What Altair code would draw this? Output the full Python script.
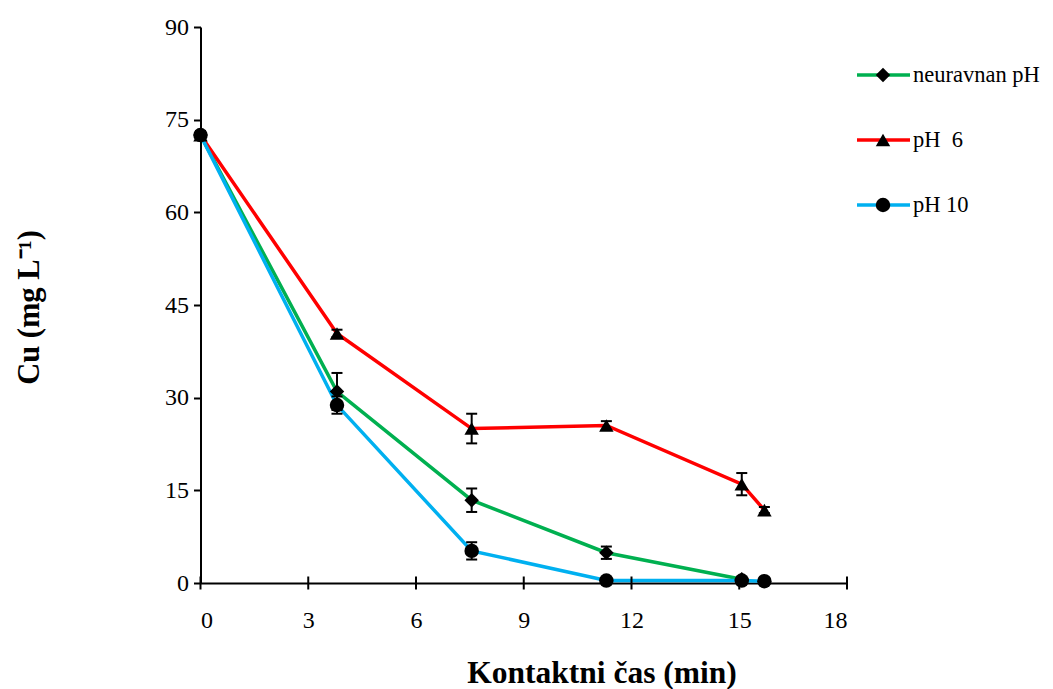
import altair as alt
import pandas as pd

series_names = ["neuravnan pH", "pH\u00a0 6", "pH 10"]
series_colors = ["#00B050", "#FF0000", "#00B0F0"]
series_shapes = ["diamond", "triangle-up", "circle"]

time_green = [0, 3.8, 7.55, 11.3, 15.07]
cu_green = [72.5, 31.0, 13.4, 4.9, 0.6]
err_green = [0.6, 3.0, 1.9, 1.0, 0.3]

time_red = [0, 3.8, 7.55, 11.3, 15.07, 15.7]
cu_red = [72.5, 40.4, 25.0, 25.5, 16.0, 11.8]
err_red = [0.6, 0.6, 2.4, 0.7, 1.8, 0.5]

time_blue = [0, 3.8, 7.55, 11.3, 15.07, 15.7]
cu_blue = [72.5, 28.8, 5.2, 0.4, 0.4, 0.3]
err_blue = [0.6, 1.4, 1.4, 0.2, 0.2, 0.2]

x_ticks = [0, 3, 6, 9, 12, 15, 18]
y_ticks = [0, 15, 30, 45, 60, 75, 90]

rows = []
for name, ts, cs, es in zip(series_names,
                            [time_green, time_red, time_blue],
                            [cu_green, cu_red, cu_blue],
                            [err_green, err_red, err_blue]):
    for t, c, e in zip(ts, cs, es):
        rows.append({"series": name, "time": t, "cu": c, "lo": c - e, "hi": c + e})
df = pd.DataFrame(rows)
df_ticks = pd.DataFrame({"t": x_ticks})
df_leg = pd.DataFrame({"series": series_names})

FONT = "Liberation Serif"

color_scale = alt.Scale(domain=series_names, range=series_colors)
shape_scale = alt.Scale(domain=series_names, range=series_shapes)

x_enc = alt.X("time:Q", scale=alt.Scale(domain=[0, 18], nice=False),
              axis=alt.Axis(values=x_ticks, format="d", ticks=False, grid=False,
                            domainColor="black", domainWidth=2,
                            labelFont=FONT, labelFontSize=24, labelColor="black",
                            labelPadding=25,
                            title="Kontaktni čas (min)", titleFont=FONT,
                            titleFontSize=31.5, titleFontWeight="bold", titleColor="black",
                            titleX=401, titleY=99, titleBaseline="alphabetic"))
y_enc = alt.Y("cu:Q", scale=alt.Scale(domain=[0, 90], nice=False),
              axis=alt.Axis(values=y_ticks, grid=False, domainColor="black", domainWidth=2,
                            tickColor="black", tickWidth=2, tickSize=7,
                            labelFont=FONT, labelFontSize=24, labelColor="black",
                            labelPadding=5,
                            title="Cu (mg L\u207b\u00b9)", titleFont=FONT,
                            titleFontSize=30.5, titleFontWeight="bold", titleColor="black",
                            titleX=-162, titleY=280, titleBaseline="alphabetic"))

base = alt.Chart(df)

lines = base.mark_line(strokeWidth=3.5).encode(
    x=x_enc, y=y_enc,
    color=alt.Color("series:N", scale=color_scale, legend=None),
    detail="series:N",
)

err_rule = base.mark_rule(color="black", strokeWidth=2).encode(
    x="time:Q", y="lo:Q", y2="hi:Q")
cap_lo = base.mark_tick(color="black", thickness=2, size=11, orient="horizontal", opacity=1).encode(
    x="time:Q", y="lo:Q")
cap_hi = base.mark_tick(color="black", thickness=2, size=11, orient="horizontal", opacity=1).encode(
    x="time:Q", y="hi:Q")

points = base.mark_point(filled=True, color="black", opacity=1, size=210).encode(
    x="time:Q", y="cu:Q",
    shape=alt.Shape("series:N", scale=shape_scale, legend=None),
)

xticks = alt.Chart(df_ticks).mark_tick(color="black", thickness=2, size=13,
                                       orient="vertical", opacity=1).encode(
    x="t:Q", y=alt.datum(0))

main = alt.layer(lines, err_rule, cap_lo, cap_hi, points, xticks)

leg_y = alt.Y("series:N", scale=alt.Scale(type="point", domain=series_names,
                                          range=[48, 178], padding=0), axis=None)
leg_line = alt.Chart(df_leg).mark_rule(strokeWidth=3.5).encode(
    x=alt.value(656.5), x2=alt.value(709.5), y=leg_y,
    color=alt.Color("series:N", scale=color_scale, legend=None))
leg_pt = alt.Chart(df_leg).mark_point(filled=True, color="black", opacity=1, size=210).encode(
    x=alt.value(682.5), y=leg_y,
    shape=alt.Shape("series:N", scale=shape_scale, legend=None))
leg_txt = alt.Chart(df_leg).mark_text(align="left", baseline="middle", font=FONT,
                                      fontSize=22.5, color="black").encode(
    x=alt.value(712.5), y=leg_y, text="series:N")

legend = alt.layer(leg_line, leg_pt, leg_txt)

chart = alt.layer(main, legend).resolve_scale(y="independent").properties(
    width=646.5, height=556,
    background="white",
    autosize=alt.AutoSizeParams(type="none"),
    padding={"left": 192.5, "top": 19, "right": 197, "bottom": 106},
).configure_view(stroke=None)

chart.save("out.html", embed_options={"renderer": "svg", "actions": False})
